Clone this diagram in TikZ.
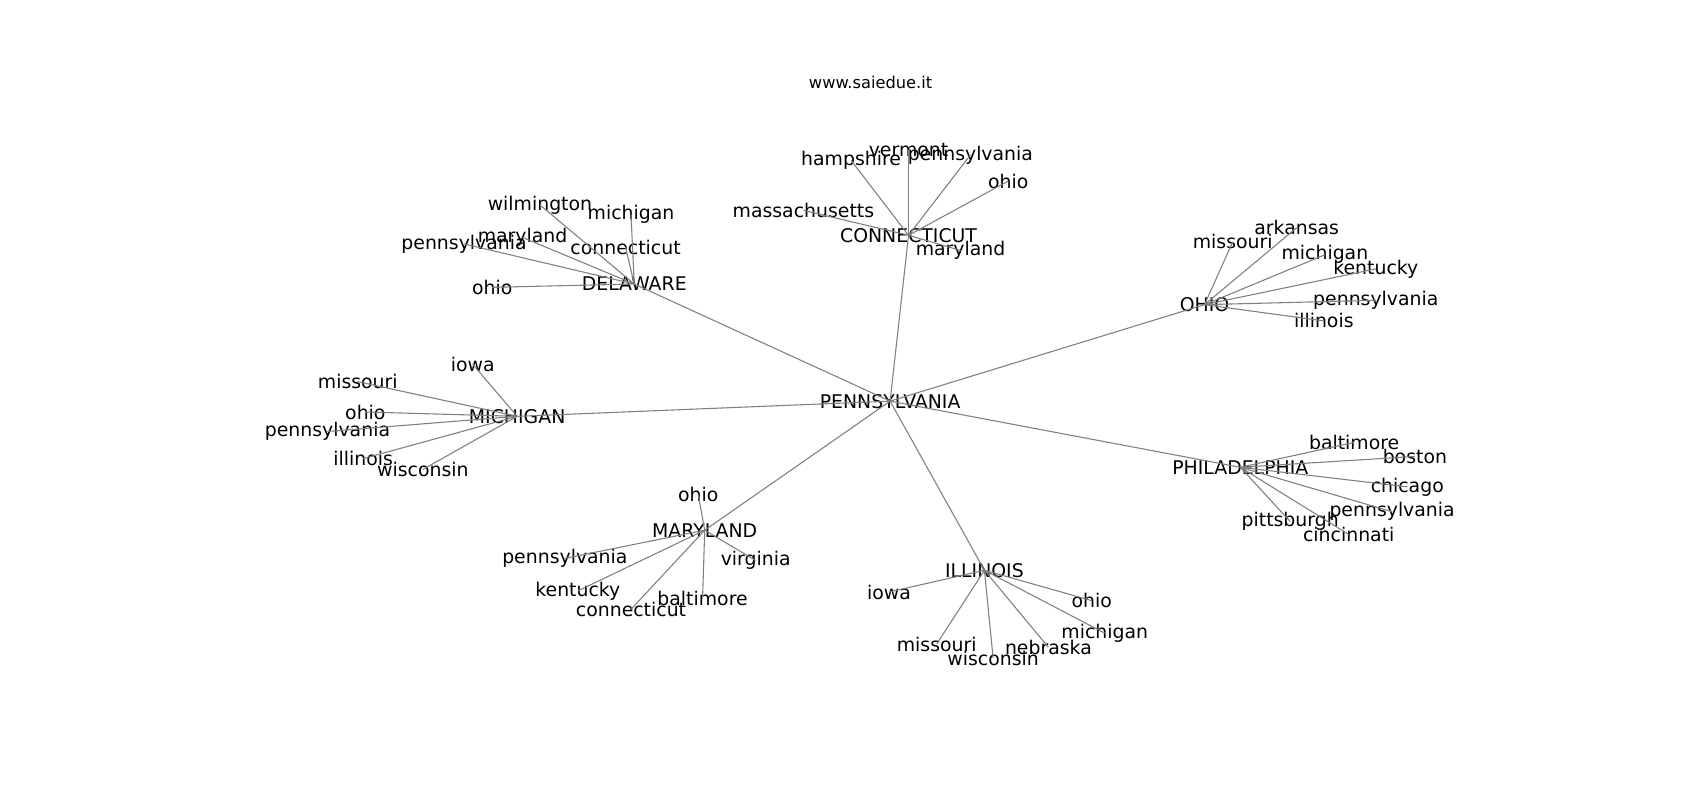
\documentclass[tikz,border=0pt]{standalone}
\usepackage{fontspec}
\setmainfont{DejaVu Sans}
\tikzset{
	city/.style = {inner sep = 0pt, font = \fontsize{8.7}{10}\selectfont},
	edge/.style = {draw = gray, line width = 0.5pt}
}
\begin{document}
\begin{tikzpicture}[x = 0.5pt, y = -0.5pt]
					\useasboundingbox (0, 0) rectangle (1568, 738);

					\node [inner sep = 0pt, font = \fontsize{7.5}{9}\selectfont] (title) at (803, 76) {www.saiedue.it};

					\node [city] (pa) at (821, 370) {PENNSYLVANIA};
					\node [city] (de) at (585, 262) {DELAWARE};
					\node [city] (ct) at (838, 217) {CONNECTICUT};
					\node [city] (oh) at (1111, 281) {OHIO};
					\node [city] (mi) at (477, 384) {MICHIGAN};
					\node [city] (ph) at (1144, 431) {PHILADELPHIA};
					\node [city] (md) at (650, 489) {MARYLAND};
					\node [city] (il) at (908, 526) {ILLINOIS};

					\node [city] (d1) at (498, 189) {wilmington};
					\node [city] (d2) at (582, 198) {michigan};
					\node [city] (d3) at (482, 219) {maryland};
					\node [city] (d4) at (577, 228) {connecticut};
					\node [city] (d5) at (428, 225) {pennsylvania};
					\node [city] (d6) at (454, 265) {ohio};

					\node [city] (c1) at (785, 148) {hampshire};
					\node [city] (c2) at (838, 138) {vermont};
					\node [city] (c3) at (895, 143) {pennsylvania};
					\node [city] (c4) at (930, 167) {ohio};
					\node [city] (c5) at (741, 194) {massachusetts};
					\node [city] (c6) at (886, 231) {maryland};

					\node [city] (o1) at (1137, 223) {missouri};
					\node [city] (o2) at (1196, 210) {arkansas};
					\node [city] (o3) at (1222, 235) {michigan};
					\node [city] (o4) at (1269, 248) {kentucky};
					\node [city] (o5) at (1269, 277) {pennsylvania};
					\node [city] (o6) at (1221, 296) {illinois};

					\node [city] (m1) at (436, 336) {iowa};
					\node [city] (m2) at (330, 352) {missouri};
					\node [city] (m3) at (337, 380) {ohio};
					\node [city] (m4) at (302, 398) {pennsylvania};
					\node [city] (m5) at (335, 423) {illinois};
					\node [city] (m6) at (390, 433) {wisconsin};

					\node [city] (p1) at (1249, 408) {baltimore};
					\node [city] (p2) at (1305, 421) {boston};
					\node [city] (p3) at (1298, 449) {chicago};
					\node [city] (p4) at (1284, 472) {pennsylvania};
					\node [city] (p5) at (1190, 481) {pittsburgh};
					\node [city] (p6) at (1244, 493) {cincinnati};

					\node [city] (y1) at (644, 456) {ohio};
					\node [city] (y2) at (521, 515) {pennsylvania};
					\node [city] (y3) at (697, 517) {virginia};
					\node [city] (y4) at (533, 545) {kentucky};
					\node [city] (y5) at (648, 552) {baltimore};
					\node [city] (y6) at (582, 562) {connecticut};

					\node [city] (i1) at (820, 546) {iowa};
					\node [city] (i2) at (1007, 554) {ohio};
					\node [city] (i3) at (1019, 584) {michigan};
					\node [city] (i4) at (864, 594) {missouri};
					\node [city] (i5) at (967, 597) {nebraska};
					\node [city] (i6) at (916, 607) {wisconsin};

					\draw [edge] (pa.center) -- (de.center);
					\draw [edge] (pa.center) -- (ct.center);
					\draw [edge] (pa.center) -- (oh.center);
					\draw [edge] (pa.center) -- (mi.center);
					\draw [edge] (pa.center) -- (ph.center);
					\draw [edge] (pa.center) -- (md.center);
					\draw [edge] (pa.center) -- (il.center);

					\draw [edge] (de.center) -- (d1.center);
					\draw [edge] (de.center) -- (d2.center);
					\draw [edge] (de.center) -- (d3.center);
					\draw [edge] (de.center) -- (d4.center);
					\draw [edge] (de.center) -- (d5.center);
					\draw [edge] (de.center) -- (d6.center);

					\draw [edge] (ct.center) -- (c1.center);
					\draw [edge] (ct.center) -- (c2.center);
					\draw [edge] (ct.center) -- (c3.center);
					\draw [edge] (ct.center) -- (c4.center);
					\draw [edge] (ct.center) -- (c5.center);
					\draw [edge] (ct.center) -- (c6.center);

					\draw [edge] (oh.center) -- (o1.center);
					\draw [edge] (oh.center) -- (o2.center);
					\draw [edge] (oh.center) -- (o3.center);
					\draw [edge] (oh.center) -- (o4.center);
					\draw [edge] (oh.center) -- (o5.center);
					\draw [edge] (oh.center) -- (o6.center);

					\draw [edge] (mi.center) -- (m1.center);
					\draw [edge] (mi.center) -- (m2.center);
					\draw [edge] (mi.center) -- (m3.center);
					\draw [edge] (mi.center) -- (m4.center);
					\draw [edge] (mi.center) -- (m5.center);
					\draw [edge] (mi.center) -- (m6.center);

					\draw [edge] (ph.center) -- (p1.center);
					\draw [edge] (ph.center) -- (p2.center);
					\draw [edge] (ph.center) -- (p3.center);
					\draw [edge] (ph.center) -- (p4.center);
					\draw [edge] (ph.center) -- (p5.center);
					\draw [edge] (ph.center) -- (p6.center);

					\draw [edge] (md.center) -- (y1.center);
					\draw [edge] (md.center) -- (y2.center);
					\draw [edge] (md.center) -- (y3.center);
					\draw [edge] (md.center) -- (y4.center);
					\draw [edge] (md.center) -- (y5.center);
					\draw [edge] (md.center) -- (y6.center);

					\draw [edge] (il.center) -- (i1.center);
					\draw [edge] (il.center) -- (i2.center);
					\draw [edge] (il.center) -- (i3.center);
					\draw [edge] (il.center) -- (i4.center);
					\draw [edge] (il.center) -- (i5.center);
					\draw [edge] (il.center) -- (i6.center);
				\end{tikzpicture}
\end{document}
